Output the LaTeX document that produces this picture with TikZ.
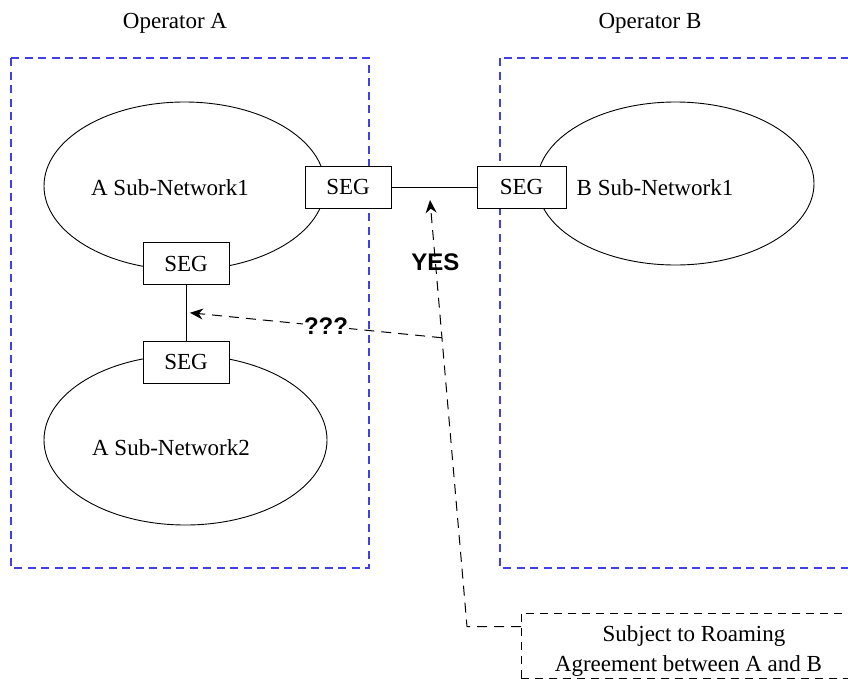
\documentclass[tikz,border=0pt]{standalone}
\usepackage{fontspec}
\setmainfont{Liberation Serif}
\newfontfamily\labelfont{Liberation Sans}
\usepackage{xcolor}
\usetikzlibrary{positioning,shapes.geometric,arrows.meta,calc}
\definecolor{opblue}{RGB}{64,64,230}

\begin{document}
\begin{tikzpicture}[
    x=1pt, y=-1pt,
    font=\fontsize{23}{28}\selectfont,
    every node/.style={inner sep=0pt},
    operator/.style={draw=opblue, line width=1.1pt, dash pattern=on 8pt off 5.5pt},
    subnet/.style={draw, ellipse, line width=0.9pt},
    seg/.style={draw, fill=white, line width=0.9pt, minimum width=86pt, minimum height=42pt},
    remark/.style={draw, line width=0.9pt, dash pattern=on 8pt off 6pt, align=center,
        minimum width=345pt, minimum height=65pt},
    link/.style={line width=0.9pt},
    query/.style={line width=1pt, dash pattern=on 10pt off 7pt},
    answer/.style={font=\labelfont\bfseries\fontsize{24}{28}\selectfont}
]
    \useasboundingbox (0,0) rectangle (848,678);
    \clip (0,0) rectangle (848,678);

    % Operators
    \node (opA) at (175,23) {Operator A};
    \node (opB) at (650,23) {Operator B};
    \draw[operator] (11,58) rectangle (369,568);
    \draw[operator] (500,58) rectangle (880,568);

    % Sub-networks
    \node[subnet, minimum width=281pt, minimum height=168pt] (netA1) at (184.5,186) {};
    \node[subnet, minimum width=283pt, minimum height=170pt] (netA2) at (185.5,440) {};
    \node[subnet, minimum width=277pt, minimum height=163pt] (netB1) at (675.5,183.5) {};
    \node at (170,188) {A Sub-Network1};
    \node at (171,448) {A Sub-Network2};
    \node at (655,188) {B Sub-Network1};

    % Gateways
    \node[seg] (segA1) at (348,187) {SEG};
    \node[seg, minimum width=89pt] (segB1) at (521.5,187) {SEG};
    \node[seg] (segA12) at (186,263.5) {SEG};
    \node[seg] (segA2) at (186,362) {SEG};
    \draw[link] (segA1.east) -- (segB1.west);
    \draw[link] (segA12.south) -- (segA2.north);

    % Roaming note
    \node[remark, anchor=north west] (note) at (521,612.5)
        {\rule{0pt}{27pt}Subject to Roaming\\[2pt]Agreement between A and B\hspace*{11pt}};

    % Connectors
    \coordinate (bend) at (467,626.5);
    \coordinate (yestip) at (430,200);
    \coordinate (fork) at ($(bend)!0.677!(yestip)$);
    \coordinate (qtip) at ($(segA12.south)!0.5!(segA2.north) + (4,0)$);
    \draw[query, -{Stealth[length=13pt,width=11pt]}] (note.west |- bend) -- (bend)
        -- node[answer, pos=0.855] {YES} (yestip);
    \draw[query, -{Stealth[length=13pt,width=11pt]}] (fork)
        -- node[answer, fill=white, inner sep=1pt, pos=0.46] {???} (qtip);
\end{tikzpicture}
\end{document}
